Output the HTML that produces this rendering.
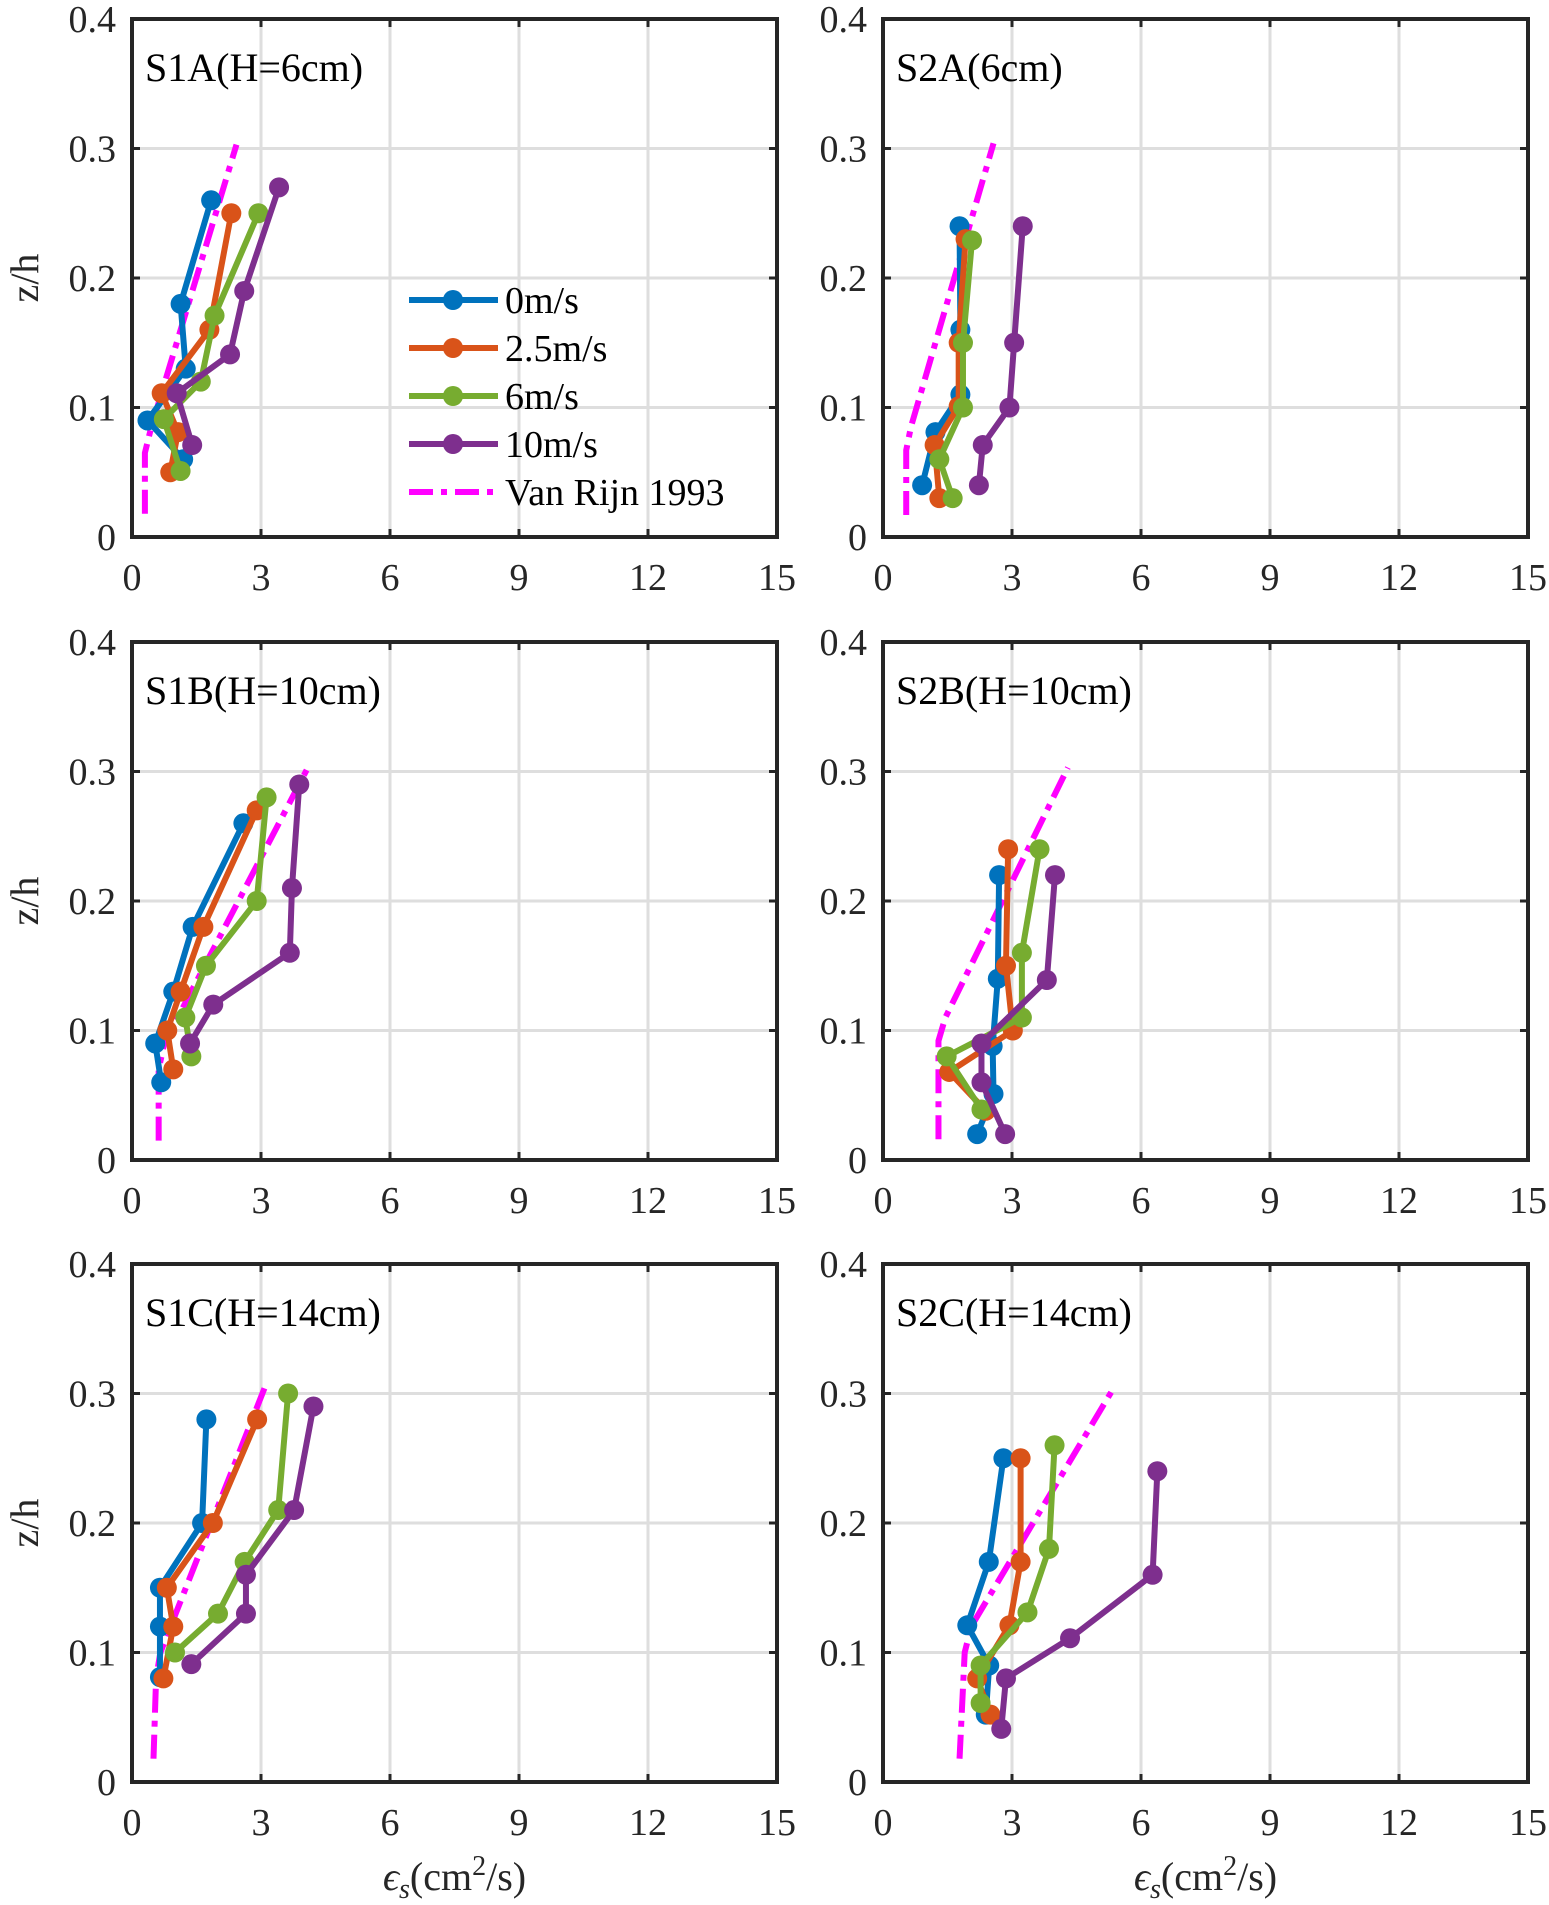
<!DOCTYPE html>
<html><head><meta charset="utf-8"><style>
html,body{margin:0;padding:0;background:#fff;}
svg{display:block;font-family:"Liberation Serif",serif;}
</style></head><body>
<svg id="chart" width="1549" height="1905" viewBox="0 0 1549 1905" xmlns="http://www.w3.org/2000/svg"></svg>
<script>
const panelTitles = ["S1A(H=6cm)","S2A(6cm)","S1B(H=10cm)","S2B(H=10cm)","S1C(H=14cm)","S2C(H=14cm)"];
const seriesNames = ["0m/s","2.5m/s","6m/s","10m/s"];
const xTicks = [0,3,6,9,12,15];
const yTicks = [0,0.1,0.2,0.3,0.4];
const yTickLabels = ["0","0.1","0.2","0.3","0.4"];
const s0 = [
 [[0.26,1.84],[0.18,1.13],[0.13,1.25],[0.09,0.36],[0.06,1.19]],
 [[0.24,1.78],[0.16,1.80],[0.11,1.80],[0.081,1.22],[0.04,0.91]],
 [[0.26,2.59],[0.18,1.41],[0.13,0.96],[0.09,0.54],[0.06,0.68]],
 [[0.22,2.70],[0.14,2.67],[0.088,2.55],[0.051,2.57],[0.02,2.19]],
 [[0.28,1.73],[0.20,1.63],[0.15,0.65],[0.12,0.65],[0.081,0.65]],
 [[0.25,2.80],[0.17,2.46],[0.121,1.96],[0.09,2.47],[0.052,2.39]]
];
const s1 = [
 [[0.25,2.31],[0.16,1.80],[0.111,0.69],[0.081,1.07],[0.05,0.89]],
 [[0.23,1.92],[0.15,1.76],[0.101,1.76],[0.071,1.20],[0.03,1.31]],
 [[0.27,2.90],[0.18,1.66],[0.13,1.13],[0.10,0.82],[0.07,0.96]],
 [[0.24,2.91],[0.15,2.86],[0.10,3.02],[0.068,1.54],[0.038,2.39]],
 [[0.28,2.91],[0.20,1.88],[0.15,0.81],[0.12,0.96],[0.08,0.73]],
 [[0.25,3.20],[0.17,3.20],[0.121,2.94],[0.08,2.19],[0.052,2.50]]
];
const s2 = [
 [[0.25,2.94],[0.171,1.92],[0.12,1.60],[0.091,0.74],[0.051,1.13]],
 [[0.229,2.07],[0.15,1.86],[0.10,1.86],[0.06,1.31],[0.03,1.62]],
 [[0.28,3.13],[0.20,2.90],[0.15,1.72],[0.11,1.24],[0.08,1.38]],
 [[0.24,3.64],[0.16,3.23],[0.11,3.23],[0.08,1.48],[0.039,2.29]],
 [[0.30,3.63],[0.21,3.40],[0.17,2.62],[0.13,2.00],[0.10,1.00]],
 [[0.26,3.99],[0.18,3.86],[0.131,3.36],[0.09,2.27],[0.061,2.27]]
];
const s3 = [
 [[0.27,3.42],[0.19,2.61],[0.141,2.28],[0.111,1.04],[0.071,1.40]],
 [[0.24,3.25],[0.15,3.05],[0.10,2.94],[0.071,2.32],[0.04,2.23]],
 [[0.29,3.89],[0.21,3.72],[0.16,3.67],[0.12,1.89],[0.09,1.35]],
 [[0.22,4.00],[0.139,3.81],[0.09,2.29],[0.06,2.29],[0.02,2.84]],
 [[0.29,4.22],[0.21,3.77],[0.16,2.65],[0.13,2.65],[0.091,1.38]],
 [[0.24,6.38],[0.16,6.27],[0.111,4.35],[0.08,2.86],[0.041,2.75]]
];
const vanRijn = [
 [[0.018,0.30],[0.065,0.30],[0.085,0.45],[0.303,2.43]],
 [[0.017,0.54],[0.067,0.54],[0.085,0.65],[0.304,2.57]],
 [[0.015,0.62],[0.07,0.62],[0.09,0.75],[0.303,4.09]],
 [[0.016,1.29],[0.092,1.29],[0.11,1.45],[0.303,4.30]],
 [[0.018,0.50],[0.08,0.56],[0.10,0.66],[0.304,3.08]],
 [[0.018,1.78],[0.10,1.90],[0.12,2.05],[0.304,5.36]]
];
const colors = ["#0072BD","#D95319","#77AC30","#7E2F8E"];
const NS="http://www.w3.org/2000/svg";
const svg=document.getElementById('chart');
function mk(tag,attrs,parent){const e=document.createElementNS(NS,tag);for(const k in attrs)e.setAttribute(k,attrs[k]);(parent||svg).appendChild(e);return e;}
const colL=[132,883], rowT=[19,642,1264], W=645, H=518;
const allSeries=[s0,s1,s2,s3];
const DASH='24 8 6 8';
for(let p=0;p<6;p++){
  const L=colL[p%2], T=rowT[Math.floor(p/2)];
  const g=mk('g',{});
  
  
  const xs=v=>L+v/15*W, ys=v=>T+H-v/0.4*H;
  xTicks.forEach(t=>{ if(t>0&&t<15){const l=mk('line',{x1:xs(t),x2:xs(t),y1:T,y2:T+H,stroke:'#dedede','stroke-width':3},g);
    }});
  yTicks.forEach(t=>{ if(t>0&&t<0.4){const l=mk('line',{x1:L,x2:L+W,y1:ys(t),y2:ys(t),stroke:'#dedede','stroke-width':3},g);
    }});
  xTicks.forEach(t=>{mk('line',{x1:xs(t),x2:xs(t),y1:T+H,y2:T+H-8,stroke:'#262626','stroke-width':3},g);mk('line',{x1:xs(t),x2:xs(t),y1:T,y2:T+8,stroke:'#262626','stroke-width':3},g);
    const tx=mk('text',{x:xs(t),y:T+H+53,'text-anchor':'middle','font-size':38,fill:'#262626'},g);tx.textContent=t;
    });
  yTicks.forEach((t,i)=>{mk('line',{x1:L,x2:L+8,y1:ys(t),y2:ys(t),stroke:'#262626','stroke-width':3},g);mk('line',{x1:L+W,x2:L+W-8,y1:ys(t),y2:ys(t),stroke:'#262626','stroke-width':3},g);
    const tx=mk('text',{x:L-16,y:ys(t)+13,'text-anchor':'end','font-size':38,fill:'#262626'},g);tx.textContent=yTickLabels[i];
    });
  const vr=mk('polyline',{points:vanRijn[p].map(d=>xs(d[1])+','+ys(d[0])).join(' '),fill:'none',stroke:'#FF00FF','stroke-width':6,'stroke-dasharray':DASH},g);
  
  allSeries.forEach((s,si)=>{
    const pl=mk('polyline',{points:s[p].map(d=>xs(d[1])+','+ys(d[0])).join(' '),fill:'none',stroke:colors[si],'stroke-width':6,'stroke-linejoin':'round'},g);
    
    s[p].forEach(d=>{const c=mk('circle',{cx:xs(d[1]),cy:ys(d[0]),r:10,fill:colors[si]},g);
      });
  });
  mk('rect',{x:L,y:T,width:W,height:H,fill:'none',stroke:'#262626','stroke-width':4},g);
  const tt=mk('text',{x:L+13,y:T+62,'font-size':40,fill:'#000'},g);tt.textContent=panelTitles[p];
  
  if(p%2===0){const yl=mk('text',{x:0,y:0,'font-size':40,'text-anchor':'middle',fill:'#262626',transform:`translate(38,${T+H/2}) rotate(-90)`},g);yl.textContent='z/h';
    }
  if(p>=4){const xl=mk('text',{x:L+W/2,y:1890,'font-size':40,'text-anchor':'middle',fill:'#262626'},g);
    xl.innerHTML='<tspan font-style="italic">ϵ</tspan><tspan font-style="italic" font-size="28" dy="8">s</tspan><tspan dy="-8">(cm</tspan><tspan font-size="28" dy="-15">2</tspan><tspan dy="15">/s)</tspan>';
    }
}
const lg=mk('g',{});


const legY=[300,348,396,444,492];
seriesNames.forEach((n,i)=>{
  mk('line',{x1:409,x2:498,y1:legY[i],y2:legY[i],stroke:colors[i],'stroke-width':6},lg);
  mk('circle',{cx:453,cy:legY[i],r:10,fill:colors[i]},lg);
  const t=mk('text',{x:505,y:legY[i]+13,'font-size':38,fill:'#000'},lg);t.textContent=n;
  
});
mk('line',{x1:409,x2:498,y1:legY[4],y2:legY[4],stroke:'#FF00FF','stroke-width':6,'stroke-dasharray':DASH},lg);
const lt=mk('text',{x:505,y:legY[4]+13,'font-size':38,fill:'#000'},lg);lt.textContent='Van Rijn 1993';


</script>
</body></html>
